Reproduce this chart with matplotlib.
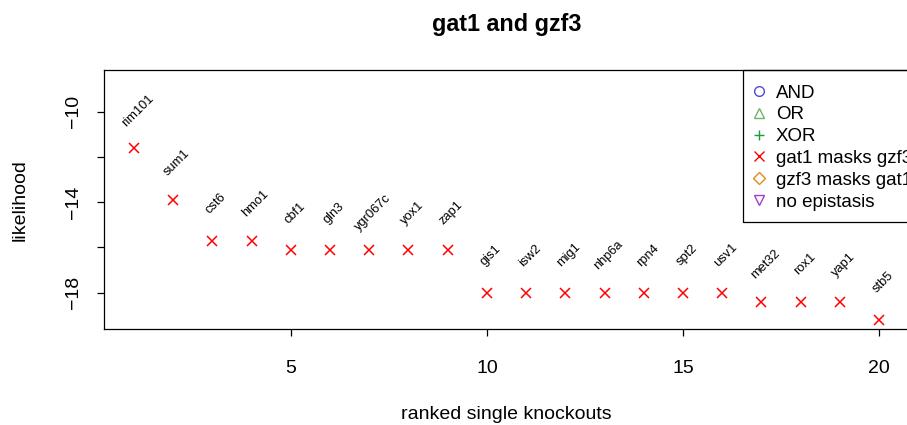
import numpy as np
import matplotlib
matplotlib.use("Agg")
import matplotlib.pyplot as plt
from matplotlib.lines import Line2D
from matplotlib.patches import Rectangle

plt.rcParams['font.family'] = ['Liberation Sans', 'DejaVu Sans']

# ranked single knockouts and their likelihoods
genes = ['rim101', 'sum1', 'cst6', 'hmo1', 'cbf1', 'gln3', 'ygr067c', 'yox1',
         'zap1', 'gis1', 'isw2', 'mig1', 'nhp6a', 'rpn4', 'spt2', 'usv1',
         'met32', 'rox1', 'yap1', 'stb5']
likelihood = [-11.62, -13.90, -15.73, -15.73, -16.13, -16.13, -16.13, -16.13,
              -16.13, -18.00, -18.00, -18.00, -18.00, -18.00, -18.00, -18.00,
              -18.40, -18.40, -18.40, -19.20]
rank = np.arange(1, len(genes) + 1)

legend_labels = ['AND', 'OR', 'XOR', 'gat1 masks gzf3', 'gzf3 masks gat1', 'no epistasis']
legend_markers = ['o', '^', '+', 'x', 'D', 'v']
legend_colors = ['#4b4bd8', '#6fb36f', '#1a9b3c', '#ff0000', '#e6891a', '#a23fc4']

xticks = [5, 10, 15, 20]
yticks = [-10, -12, -14, -16, -18]
yticklabels = ['\u221210', '', '\u221214', '', '\u221218']

W, H = 907, 425
ax_l, ax_r, ax_t, ax_b = 104, 909, 70, 329.3
fig = plt.figure(figsize=(W / 100, H / 100), dpi=100)
ax = fig.add_axes([ax_l / W, 1 - ax_b / H, (ax_r - ax_l) / W, (ax_b - ax_t) / H])

def to_ax(px, py):
    # pixel position -> axes fraction
    return (px - ax_l) / (ax_r - ax_l), (ax_b - py) / (ax_b - ax_t)

ax.plot(rank, likelihood, linestyle='none', marker='x', color='red',
        markersize=7.5, markeredgewidth=1.1)

for x, y, g in zip(rank, likelihood, genes):
    ax.text(x + 0.1, y + 1.65, g, rotation=45, ha='center', va='center',
            rotation_mode='anchor', fontsize=9.3)

ax.set_xlim(0.24, 20.76)
ax.set_ylim(-19.62, -8.16)
ax.set_xticks(xticks)
ax.set_yticks(yticks)
ax.set_yticklabels(yticklabels, rotation=90, va='center')
ax.tick_params(axis='both', direction='out', length=5, width=0.9, labelsize=14)
ax.tick_params(axis='x', pad=17)
ax.tick_params(axis='y', pad=11)
for s in ax.spines.values():
    s.set_linewidth(0.9)

ax.set_title('gat1 and gzf3', fontsize=16.8, fontweight='bold', pad=28)
ax.set_xlabel('ranked single knockouts', fontsize=14, labelpad=21)
ax.set_ylabel('likelihood', fontsize=14, labelpad=26)

handles = []
for m, c in zip(legend_markers, legend_colors):
    ms = 7 if m != 'D' else 6
    handles.append(Line2D([], [], linestyle='none', marker=m, color=c,
                          markerfacecolor='none', markersize=ms,
                          markeredgewidth=1.0))
leg = ax.legend(handles, legend_labels, loc='upper left',
                bbox_to_anchor=to_ax(743, 76),
                borderaxespad=0, fontsize=13.5, frameon=False,
                handlelength=0.8, handletextpad=0.5, labelspacing=0.25,
                borderpad=0.45)

# legend box drawn separately (R style, square, runs off the right edge)
x0, y0 = to_ax(743, 221.7)
x1, y1 = to_ax(915, 70)
ax.add_patch(Rectangle((x0, y0), x1 - x0, y1 - y0, transform=ax.transAxes,
                       fill=False, edgecolor='black', linewidth=0.9,
                       clip_on=False, zorder=5))

fig.savefig('out.png', dpi=100)
